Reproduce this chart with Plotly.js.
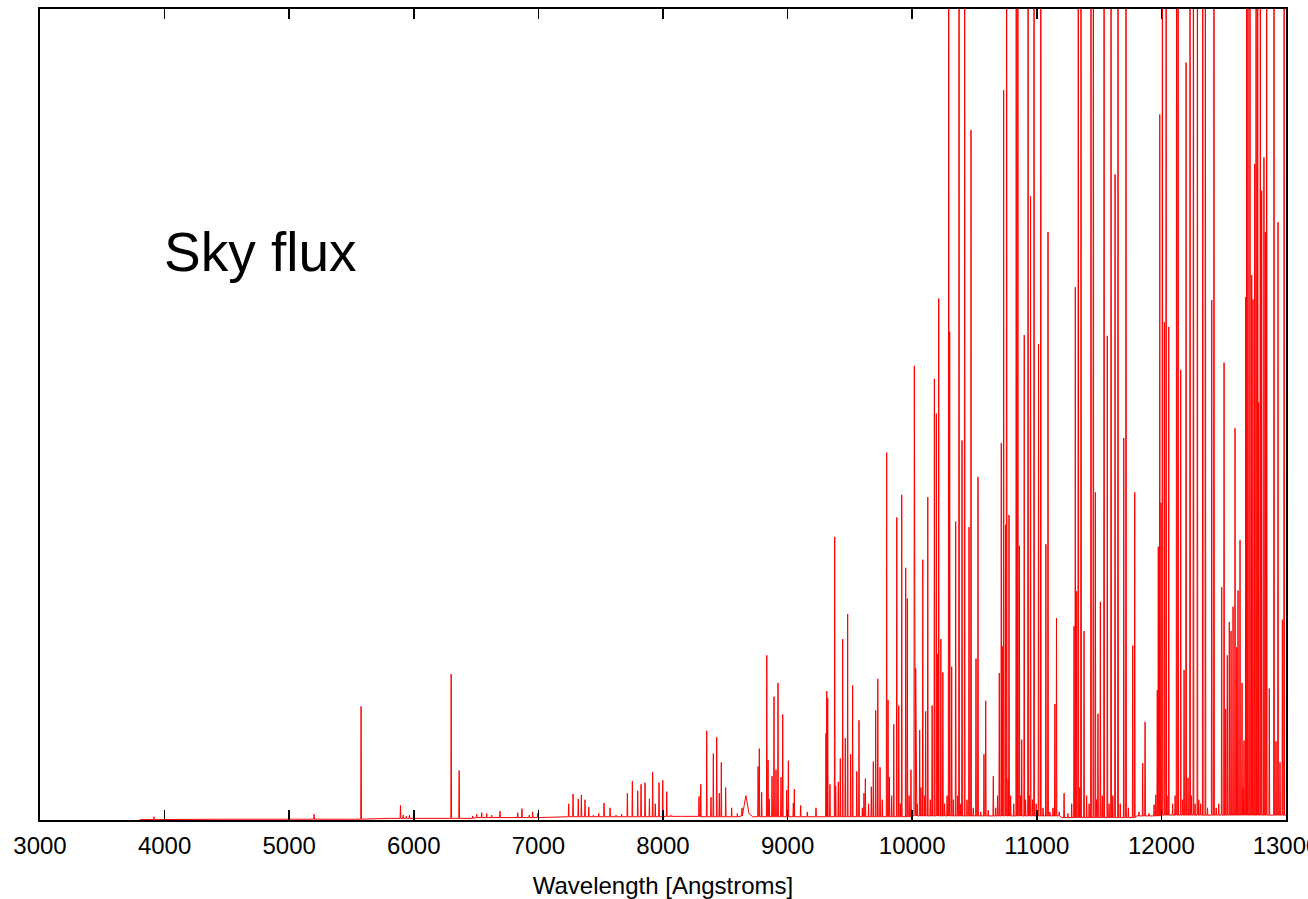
<!DOCTYPE html>
<html>
<head>
<meta charset="utf-8">
<script src="https://cdn.plot.ly/plotly-3.0.1.min.js"></script>
<style>html,body{margin:0;padding:0;background:#fff;}#chart{width:1308px;height:899px;}</style>
</head>
<body>
<div id="chart"></div>
<script>
// Emission line centres (Angstrom) and peak flux (arbitrary units, axis top = 100)
const lineWave = [3915, 5200, 5577, 5893, 5915, 5940, 5965, 6000, 6300, 6364,
  6473, 6505, 6545, 6585, 6625, 6692, 6834, 6868, 6927, 6954, 6994,
  7243, 7278, 7320, 7345, 7374, 7404, 7441, 7484, 7527, 7575, 7623, 7668,
  7714, 7754, 7797, 7824, 7856, 7891, 7917, 7938, 7968, 7998, 8030, 8062, 8150,
  8289, 8303, 8351, 8385, 8404, 8431, 8452, 8468, 8503, 8551, 8597, 8634,
  8763, 8773, 8792, 8833, 8843, 8853, 8875, 8891, 8907, 8923, 8947, 8961, 8993, 9006,
  9046, 9054, 9105, 9158, 9228,
  9308, 9314, 9322, 9340, 9378, 9386, 9407, 9423, 9442, 9463, 9482, 9506, 9522, 9555, 9573,
  9600, 9613, 9624, 9650, 9672, 9688, 9707, 9724, 9742, 9760, 9795, 9806, 9817, 9835, 9852,
  9876, 9892, 9905, 9916, 9948, 9961, 9975, 9990, 10017, 10028, 10040, 10060, 10070, 10085,
  10100, 10108, 10125, 10145, 10160, 10178, 10194, 10205, 10213, 10230, 10246, 10260, 10280,
  10293, 10301, 10317, 10330, 10349, 10365, 10376, 10390, 10400, 10421, 10440, 10456, 10472,
  10490, 10512, 10528, 10550, 10576, 10590, 10610, 10651, 10670, 10685, 10699, 10715, 10723,
  10734, 10749, 10758, 10770, 10777, 10790, 10815, 10835, 10848, 10860, 10870, 10879, 10899,
  10910, 10930, 10940, 10950, 10965, 10978, 10995, 11014, 11032, 11050, 11073, 11090, 11105,
  11130, 11145, 11158, 11180, 11219, 11250, 11280, 11299, 11309, 11320, 11333, 11345, 11355,
  11379, 11400, 11420, 11435, 11454, 11470, 11480, 11491, 11510, 11525, 11540, 11566, 11580,
  11596, 11610, 11628, 11652, 11670, 11698, 11716, 11735, 11770, 11786, 11820, 11850, 11869,
  11900, 11941, 11955, 11967, 11975, 11987, 11997, 12008, 12024, 12038, 12045, 12059, 12090,
  12110, 12122, 12134, 12155, 12170, 12182, 12198, 12214, 12230, 12240, 12257, 12270, 12289,
  12300, 12315, 12332, 12353, 12370, 12404, 12422, 12440, 12460, 12484, 12503, 12516, 12529,
  12545, 12559, 12575, 12591, 12605, 12615, 12631, 12647, 12655, 12663, 12677, 12685, 12695,
  12711, 12725, 12735, 12749, 12760, 12773, 12781, 12794, 12805, 12823, 12834, 12845, 12866,
  12904, 12920, 12936, 12952, 12971, 12985];
const linePeak = [0.4, 0.7, 14.0, 1.8, 0.6, 0.5, 0.6, 0.4, 18.0, 6.1,
  0.5, 0.7, 0.9, 0.8, 0.6, 1.1, 0.9, 1.4, 0.6, 1.0, 0.8,
  2.0, 3.2, 2.6, 3.1, 2.5, 1.6, 0.6, 0.8, 2.1, 1.5, 0.6, 0.7,
  3.3, 4.8, 3.6, 4.4, 4.6, 2.6, 5.9, 2.0, 4.6, 4.9, 3.5, 0.6, 0.5,
  2.9, 4.4, 11.0, 2.8, 8.2, 10.2, 3.3, 7.1, 4.0, 1.5, 0.8, 1.5,
  6.6, 8.8, 3.4, 20.3, 7.4, 2.6, 5.4, 15.2, 6.2, 16.9, 5.3, 13.0, 3.7, 7.3,
  2.1, 3.8, 1.8, 1.0, 1.5,
  10.7, 15.9, 15.0, 4.4, 34.9, 4.2, 4.7, 7.6, 22.3, 10.1, 25.4, 8.1, 16.6, 6.0, 12.3,
  1.5, 3.3, 5.1, 2.0, 4.1, 7.2, 13.5, 17.4, 6.5, 2.5, 45.3, 14.8, 5.3, 3.0, 11.8,
  37.3, 14.1, 2.0, 40.1, 31.1, 27.3, 3.0, 6.2, 56.0, 18.7, 2.0, 11.1, 4.0, 32.1,
  3.0, 13.4, 39.8, 2.5, 14.1, 54.4, 50.1, 20.5, 64.3, 22.3, 18.2, 2.0, 3.0,
  150, 60.2, 18.9, 2.5, 36.8, 3.0, 150, 2.0, 46.8, 150, 2.5, 36.1, 85.1,
  1.5, 19.9, 42.3, 1.0, 8.1, 14.7, 1.2, 5.4, 1.5, 3.0, 18.1, 46.5, 21.4,
  90.0, 36.4, 150, 5.0, 37.6, 3.0, 2.0, 150, 150, 33.8, 3.0, 9.9, 59.8,
  2.5, 150, 3.0, 76.9, 2.5, 150, 2.0, 58.7, 150, 1.5, 34.0, 72.5, 1.0,
  1.5, 14.3, 24.9, 1.0, 3.3, 0.8, 2.0, 23.9, 65.7, 28.2, 150, 4.0, 150,
  23.3, 3.0, 2.0, 150, 150, 40.4, 2.5, 13.1, 26.9, 3.0, 150, 59.7, 2.0,
  150, 3.0, 79.6, 150, 2.0, 47.1, 150, 1.5, 21.5, 40.4, 1.0, 7.0, 12.1,
  0.8, 1.9, 3.1, 16.0, 33.7, 87.0, 39.1, 150, 61.4, 150, 3.0, 60.8, 2.0,
  3.0, 150, 150, 55.5, 2.5, 18.5, 93.4, 5.2, 150, 3.0, 150, 2.0, 150,
  2.5, 2.0, 150, 150, 1.5, 64.1, 150, 1.5, 2.0, 28.7, 56.4, 13.7, 20.3,
  24.4, 23.3, 26.3, 48.3, 21.3, 28.3, 34.5, 16.9, 4.0, 9.8, 64.5, 150, 150,
  150, 67.2, 64.2, 80.9, 150, 150, 51.5, 150, 77.6, 81.7, 72.5, 150, 16.2,
  150, 9.7, 73.7, 7.1, 24.7, 150];

// Sky continuum samples (including the broad feature near 8660 A)
const contWave = [3800, 4500, 5500, 5800, 6500, 7000, 7200, 7600, 8000, 8300, 8600,
  8645, 8655, 8665, 8675, 8690, 8720, 9000, 9300, 10000, 11000, 11200, 11800, 12000, 13000];
const contFlux = [0.05, 0.1, 0.1, 0.2, 0.3, 0.3, 0.4, 0.4, 0.45, 0.4, 0.5,
  1.2, 2.4, 3.0, 2.2, 0.8, 0.4, 0.4, 0.4, 0.5, 0.5, 0.3, 0.5, 0.6, 0.6];

const xTicks = [3000, 4000, 5000, 6000, 7000, 8000, 9000, 10000, 11000, 12000, 13000];

// Build a stick spectrum: each line is a narrow spike on the continuum
const halfWidth = 3;
function baseAt(w) {
  let v = contFlux[0];
  for (let i = 0; i < contWave.length; i++) { if (contWave[i] <= w) v = contFlux[i]; }
  return v;
}
const pts = [];
for (let i = 0; i < contWave.length; i++) {
  const near = lineWave.some(w => Math.abs(w - contWave[i]) <= halfWidth + 1);
  if (!near) pts.push([contWave[i], contFlux[i]]);
}
for (let i = 0; i < lineWave.length; i++) {
  const w = lineWave[i], b = baseAt(w);
  pts.push([w - halfWidth, b]);
  pts.push([w, linePeak[i]]);
  pts.push([w + halfWidth, b]);
}
pts.sort((a, b) => a[0] - b[0]);

const trace = {
  x: pts.map(p => p[0]),
  y: pts.map(p => p[1]),
  type: 'scatter',
  mode: 'lines',
  line: {color: '#ff0000', width: 1},
  hoverinfo: 'skip'
};

const font = 'Liberation Sans, Arial, Helvetica, sans-serif';
const layout = {
  width: 1308, height: 899,
  margin: {l: 40, r: 22, t: 9, b: 79},
  paper_bgcolor: '#ffffff', plot_bgcolor: '#ffffff',
  showlegend: false,
  xaxis: {
    range: [3000, 13000],
    tickvals: xTicks,
    ticktext: xTicks.map(String),
    ticks: 'inside', ticklen: 10, tickwidth: 1.5, tickcolor: '#000',
    showline: true, linecolor: '#000', linewidth: 2, mirror: 'ticks',
    showgrid: false, zeroline: false,
    ticklabeloverflow: 'allow',
    ticklabelstandoff: 3,
    tickfont: {family: font, size: 24, color: '#000'},
    title: {text: 'Wavelength [Angstroms]', font: {family: font, size: 24, color: '#000'}, standoff: 20}
  },
  yaxis: {
    range: [0, 100],
    showline: true, linecolor: '#000', linewidth: 2, mirror: true,
    ticks: '', showticklabels: false, showgrid: false, zeroline: false
  },
  annotations: [{
    text: 'Sky flux', xref: 'x', yref: 'paper', x: 3980, y: 0.70,
    xanchor: 'left', yanchor: 'middle', showarrow: false,
    font: {family: font, size: 55, color: '#000'}
  }]
};

Plotly.newPlot('chart', [trace], layout, {displayModeBar: false, staticPlot: true});
</script>
</body>
</html>
